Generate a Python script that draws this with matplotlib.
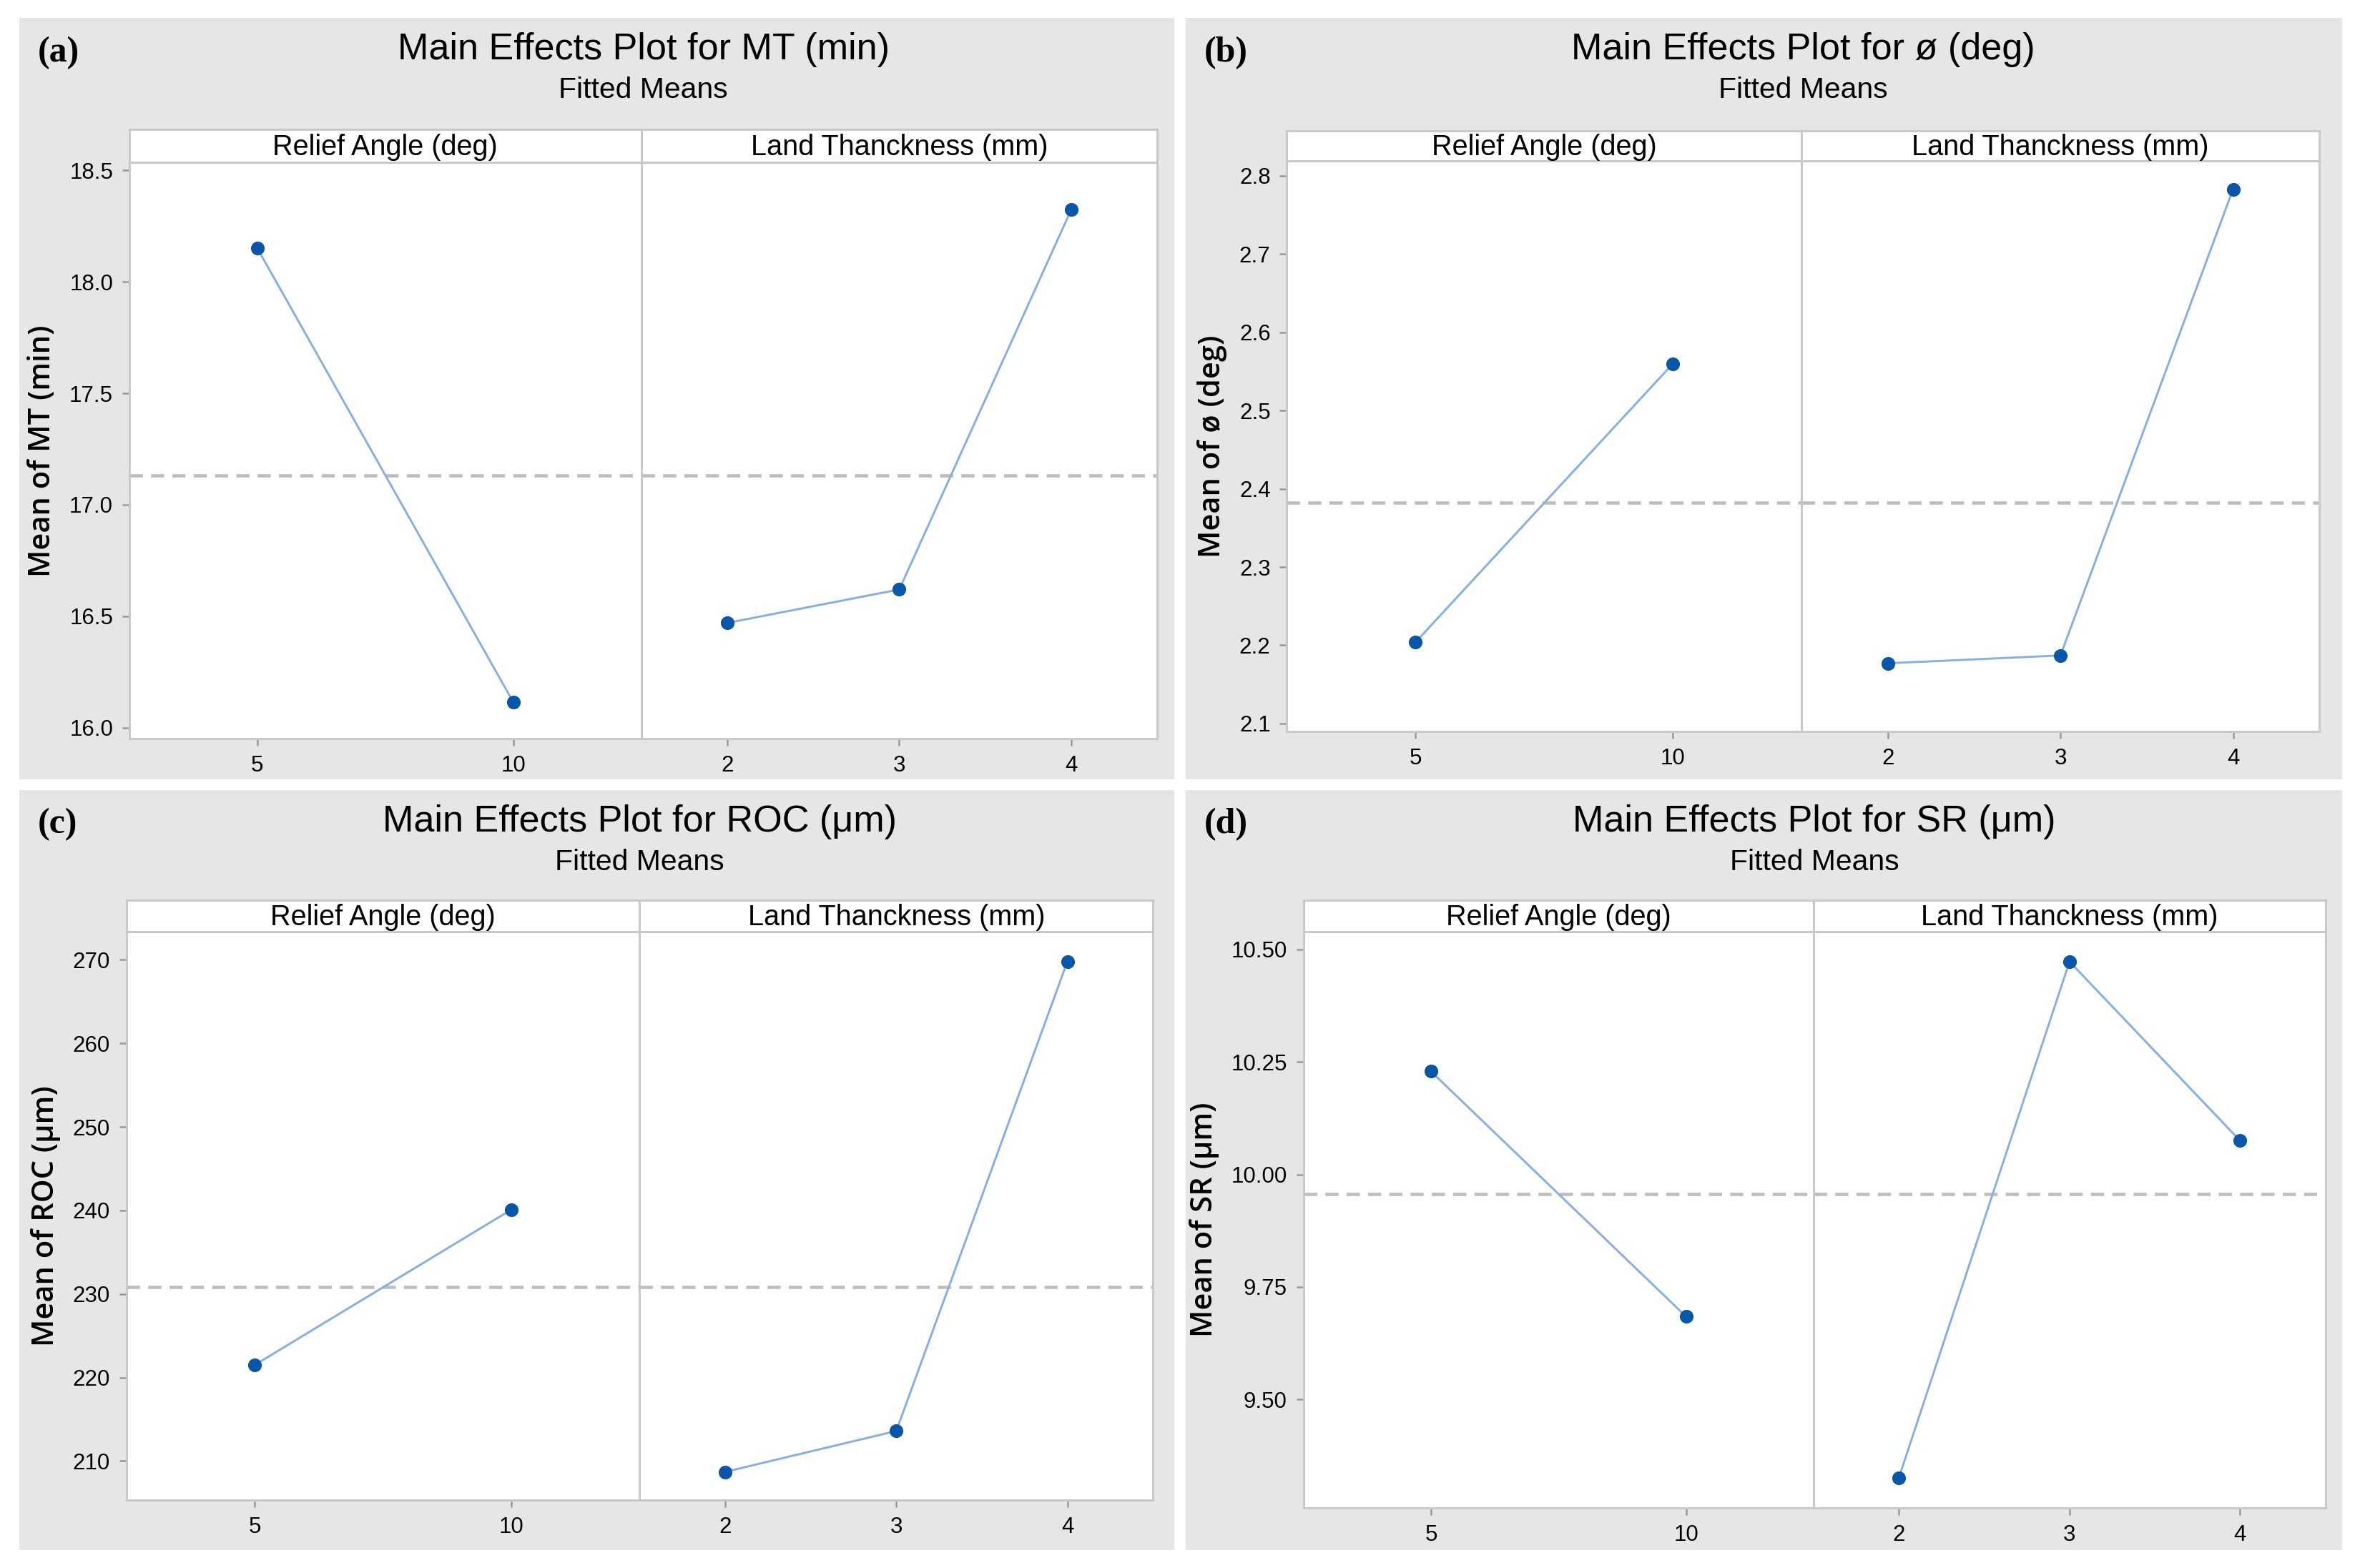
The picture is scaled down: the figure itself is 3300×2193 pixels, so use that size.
import numpy as np
import matplotlib.pyplot as plt
from matplotlib.patches import Rectangle
from matplotlib.ticker import FormatStrFormatter

# values
relief_levels = ['5', '10']
land_levels = ['2', '3', '4']

mt_relief = [18.15, 16.115]
mt_land = [16.47, 16.62, 18.325]

phi_relief = [2.204, 2.560]
phi_land = [2.177, 2.187, 2.783]

roc_relief = [221.5, 240.1]
roc_land = [208.7, 213.6, 269.8]

sr_relief = [10.229, 9.684]
sr_land = [9.326, 10.473, 10.075]

titles = ['Main Effects Plot for MT (min)', 'Main Effects Plot for \u00f8 (deg)',
          'Main Effects Plot for ROC (\u03bcm)', 'Main Effects Plot for SR (\u03bcm)']
ylabels = ['Mean of MT (min)', 'Mean of \u00f8 (deg)', 'Mean of ROC (\u03bcm)', 'Mean of SR (\u03bcm)']
letters = ['(a)', '(b)', '(c)', '(d)']
strip_labels = ['Relief Angle (deg)', 'Land Thanckness (mm)']

NARROW = ['Liberation Sans', 'DejaVu Sans']
WIDE = ['Open Sans', 'DejaVu Sans']
SERIF = ['Liberation Serif', 'DejaVu Serif']

W, H = 1568.0, 1042.0  # layout measured on the reduced reference


def fx(x):
    return x / W


def fy(y):
    return 1 - y / H


fig = plt.figure(figsize=(11, 7.31), dpi=300)
fig.patch.set_facecolor('white')

# gray box, axes left, divider, right, strip top, data top, data bottom
layouts = [
    dict(box=(13, 12, 780, 518), l=86, d=426, r=769, st=86, t=108, b=491),
    dict(box=(788, 12, 1556, 518), l=855, d=1197, r=1541, st=87, t=107, b=486),
    dict(box=(13, 525, 780, 1030), l=84, d=425, r=766, st=598, t=619, b=997),
    dict(box=(788, 525, 1556, 1030), l=866, d=1205, r=1545, st=598, t=619, b=1002),
]

ylims = [(15.95, 18.535), (2.09, 2.819), (205.3, 273.4), (9.259, 10.54)]
yticks = [np.arange(16.0, 18.51, 0.5), np.arange(2.1, 2.81, 0.1),
          np.arange(210, 271, 10), np.arange(9.5, 10.51, 0.25)]
yfmts = ['%.1f', '%.1f', '%d', '%.2f']
data = [(mt_relief, mt_land), (phi_relief, phi_land),
        (roc_relief, roc_land), (sr_relief, sr_land)]

line_col = '#86aee0'
dot_col = '#0a56a8'
frame_col = '#c8c8c8'

for i in range(4):
    L = layouts[i]
    x0, y0, x1, y1 = L['box']
    fig.patches.append(Rectangle((fx(x0), fy(y1)), fx(x1) - fx(x0), fy(y0) - fy(y1),
                                 transform=fig.transFigure, facecolor='#e6e6e6',
                                 edgecolor='none', zorder=-10))
    cx = (fx(L['l']) + fx(L['r'])) / 2
    fig.text(cx, fy(y0 + 21), titles[i], ha='center', va='center',
             fontsize=12.5, family=NARROW)
    fig.text(cx, fy(y0 + 48), 'Fitted Means', ha='center', va='center',
             fontsize=9.8, family=NARROW)
    fig.text(fx(x0 + 12), fy(y0 + 23), letters[i], ha='left', va='center',
             fontsize=12, fontweight='bold', family=SERIF)

    rel, land = data[i]
    gmean = np.mean(rel)
    bottom = fy(L['b'])
    height = fy(L['t']) - bottom
    sh = fy(L['st']) - fy(L['t'])
    parts = [(L['l'], L['d'], relief_levels, rel), (L['d'], L['r'], land_levels, land)]
    for j, (a, c, levels, vals) in enumerate(parts):
        ax = fig.add_axes([fx(a), bottom, fx(c) - fx(a), height])
        xs = np.arange(len(levels))
        ax.plot(xs, vals, color=line_col, lw=0.7, zorder=2)
        ax.plot(xs, vals, 'o', color=dot_col, ms=3.6, zorder=3)
        ax.axhline(gmean, color='#bdbdbd', lw=1.1, ls=(0, (4, 2.5)), zorder=1)
        ax.set_xlim(-0.5, len(levels) - 0.5)
        ax.set_ylim(*ylims[i])
        ax.set_xticks(xs)
        ax.set_xticklabels(levels, family=NARROW, fontsize=7.5)
        ax.tick_params(axis='both', length=2.5, width=0.6, color='#999999', pad=3)
        for s in ax.spines.values():
            s.set_color(frame_col)
            s.set_linewidth(0.7)
        if j == 0:
            ax.set_yticks(yticks[i])
            ax.yaxis.set_major_formatter(FormatStrFormatter(yfmts[i]))
            for t in ax.get_yticklabels():
                t.set_family(NARROW)
                t.set_fontsize(7.5)
            ax.set_ylabel(ylabels[i], fontsize=10, family=WIDE,
                          fontweight='semibold', labelpad=4)
        else:
            ax.set_yticks([])
        # strip on top of each column
        sx = fig.add_axes([fx(a), fy(L['t']), fx(c) - fx(a), sh])
        sx.set_xticks([])
        sx.set_yticks([])
        sx.set_facecolor('white')
        for s in sx.spines.values():
            s.set_color(frame_col)
            s.set_linewidth(0.7)
        sx.text(0.5, 0.45, strip_labels[j], ha='center', va='center',
                transform=sx.transAxes, fontsize=9.5, family=NARROW)

fig.savefig('out.png', dpi=300, facecolor='white')
